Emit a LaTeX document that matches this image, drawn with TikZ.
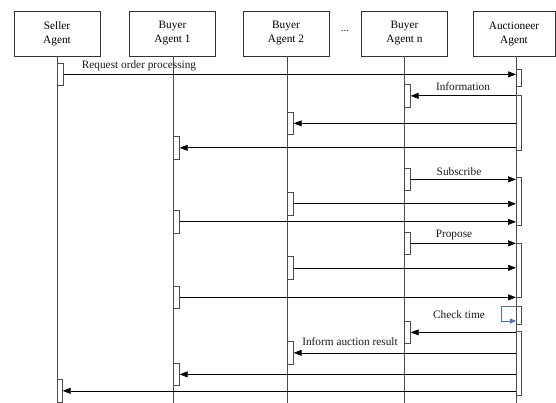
\documentclass[tikz,border=0pt]{standalone}
\usepackage{fontspec}
\setmainfont{Liberation Serif}
\usetikzlibrary{arrows.meta,positioning}
\begin{document}
\begin{tikzpicture}[x=1pt,y=-1pt,
  font=\fontsize{11.3}{14}\selectfont,
  agent/.style={draw=black!80,line width=0.8pt,minimum width=86pt,minimum height=45pt,align=center,inner sep=0pt},
  life/.style={draw=black!70,line width=1pt},
  act/.style={draw=black!70,line width=0.7pt,fill=white,minimum width=6pt,inner sep=0pt},
  msg/.style={draw=black,line width=0.7pt,-{Triangle[length=8pt,width=6pt]}},
  lbl/.style={inner sep=0pt,text=black!90}]
\useasboundingbox (0,0) rectangle (556,403);
% agents
\node[agent] (sel) at (57,33.5) {Seller\\Agent};
\node[agent] (by1) at (172.5,33.5) {Buyer\\Agent 1};
\node[agent] (by2) at (286,33.5) {Buyer\\Agent 2};
\node[lbl] (dots) at (345,31) {...};
\node[agent] (byn) at (404.5,33.5) {Buyer\\Agent n};
\node[agent,minimum width=82pt] (auc) at (514,33.5) {Auctioneer\\Agent};
% lifeline ends
\coordinate (eS) at (57,403);
\coordinate (e1) at (173,403);
\coordinate (e2) at (287,403);
\coordinate (en) at (404,403);
\coordinate (eA) at (516,403);
\draw[life] (sel.south -| eS) -- (eS);
\draw[life] (by1.south -| e1) -- (e1);
\draw[life] (by2.south -| e2) -- (e2);
\draw[life] (byn.south -| en) -- (en);
\draw[life] (auc.south -| eA) -- (eA);
% activations: anchor north west at (x, top)
\newcommand{\actbox}[5]{\node[act,minimum width=#5pt,minimum height=#4pt-#3pt,anchor=north west] (#1) at (#2,#3) {};}
\actbox{s1}{57}{63}{85}{6}
\actbox{a1}{516}{69}{86}{5}
\actbox{n1}{404}{84}{107}{6}
\actbox{a2}{516}{95}{150}{5}
\actbox{b2a}{287}{112}{134}{6}
\actbox{b1a}{173}{136}{159}{6}
\actbox{n2}{404}{168}{190}{6}
\actbox{a3}{516}{177}{225}{5}
\actbox{b2b}{287}{192}{215}{6}
\actbox{b1b}{173}{210}{233}{6}
\actbox{n3}{404}{232}{254}{6}
\actbox{a4}{516}{243}{297}{5}
\actbox{b2c}{287}{256}{279}{6}
\actbox{b1c}{173}{286}{308}{6}
\actbox{a5}{516}{306}{324}{5}
\actbox{n4}{404}{321}{343}{6}
\actbox{a6}{516}{331}{395}{5}
\actbox{b2d}{287}{341}{364}{6}
\actbox{b1d}{173}{363}{385}{6}
\actbox{s2}{57}{379}{402}{5}
% messages
\draw[msg] (s1.east) -- (s1.east -| eA);
\draw[msg] (n1.east -| eA) -- (n1.east);
\draw[msg] (b2a.east -| eA) -- (b2a.east);
\draw[msg] (b1a.east -| eA) -- (b1a.east);
\draw[msg] (n2.east) -- (n2.east -| eA);
\draw[msg] (b2b.east) -- (b2b.east -| eA);
\draw[msg] (b1b.east) -- (b1b.east -| eA);
\draw[msg] (n3.east) -- (n3.east -| eA);
\draw[msg] (b2c.east) -- (b2c.east -| eA);
\draw[msg] (b1c.east) -- (b1c.east -| eA);
\draw[msg] (n4.east -| eA) -- (n4.east);
\draw[msg] (b2d.east -| eA) -- (b2d.east);
\draw[msg] (b1d.east -| eA) -- (b1d.east);
\draw[msg] (s2.east -| eA) -- (s2.east);
% self message
\coordinate (ct) at (501,321);
\draw[line width=0.8pt,draw={rgb,255:red,68;green,114;blue,196},-{Triangle[length=6pt,width=5pt]}]
  (a5.north west) -| (ct) -- (ct -| eA);
% labels
\node[lbl] (l1) at (139,66) {Request order processing};
\node[lbl] (l2) at (463,87) {Information};
\node[lbl] (l3) at (459,172) {Subscribe};
\node[lbl] (l4) at (454,235) {Propose};
\node[lbl] (l5) at (459,315) {Check time};
\node[lbl] (l6) at (350,342) {Inform auction result};
\end{tikzpicture}
\end{document}
